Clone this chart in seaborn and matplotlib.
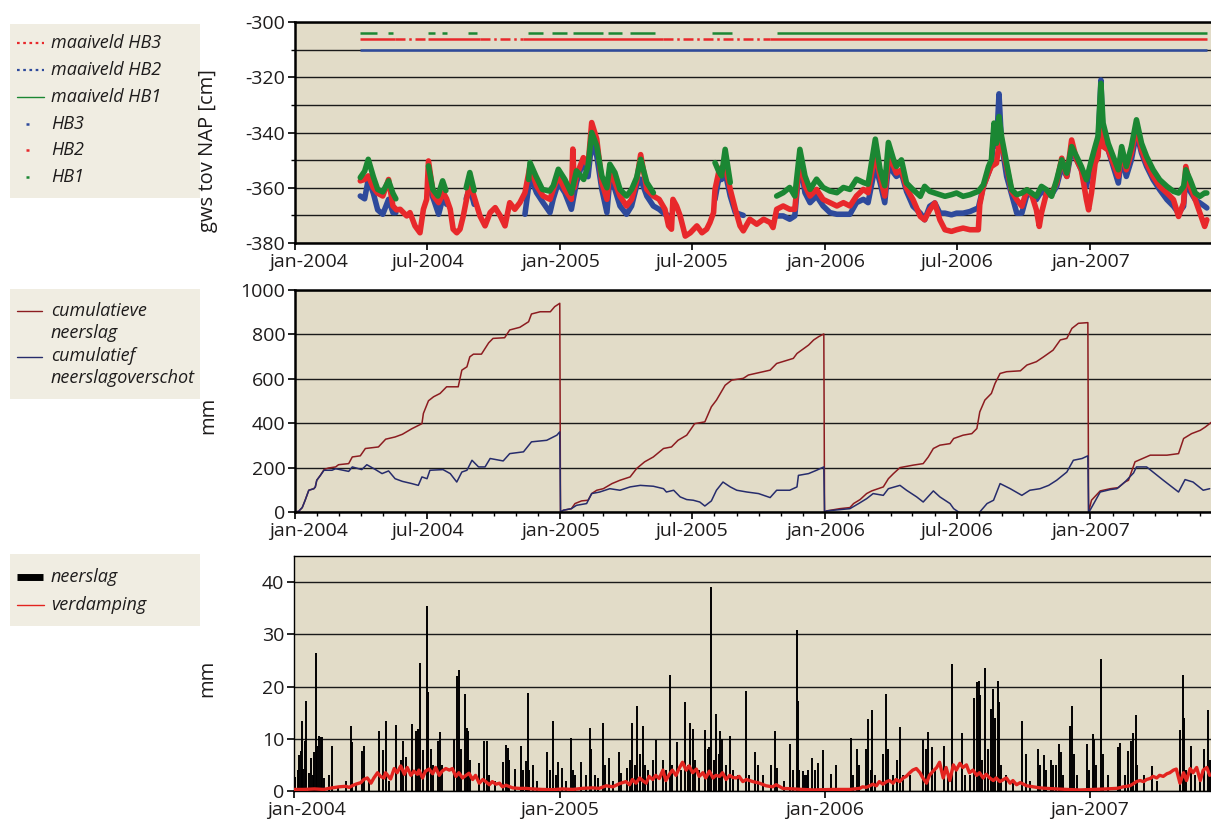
import numpy as np
import pandas as pd
import matplotlib
matplotlib.use("Agg")
import matplotlib.pyplot as plt
import matplotlib.dates as mdates
import matplotlib.transforms as mtransforms
from matplotlib.lines import Line2D
from matplotlib.patches import Rectangle
import seaborn as sns

nan = float("nan")
START = pd.Timestamp("2004-01-01")

# ---------------------------------------------------------------- grondwater
# dagnummer sinds 1 jan 2004, grondwaterstand in cm t.o.v. NAP (nan = geen meting)
hb1_dag = [90, 96, 101, 108, 114, 121, 129, 135, 139, 160,
           184, 190, 197, 203.5, 208, 222, 236, 241, 247, 280,
           322, 324, 332, 341, 351, 356, 363, 372, 381, 388,
           398, 404, 409, 416, 423, 430, 434, 441, 448, 457,
           464, 471, 476.5, 485, 494, 540, 579, 584, 588, 593,
           600, 630, 664, 673, 682, 689, 696, 703, 710, 719,
           728, 737.5, 747, 756, 765, 774, 783.5, 790, 800, 806.5,
           813, 818, 825, 829, 836, 843, 852, 862, 868, 875,
           882, 889, 896, 905, 912, 921, 930.5, 942, 949, 956,
           960, 963.6, 967, 970.5, 974, 981, 988, 995, 1002, 1009,
           1015.5, 1022, 1029, 1036, 1043, 1050, 1057, 1064, 1070.6, 1077.5,
           1084, 1091, 1098, 1103, 1107, 1111, 1114, 1121, 1128, 1135,
           1139.6, 1146, 1153, 1160, 1167, 1174, 1183, 1192, 1202, 1211,
           1218, 1225, 1228, 1234, 1241, 1247.5, 1254, 1257]
hb1_gws = [-356.3, -354.0, -349.7, -356.0, -360.6, -361.5, -357.5, -362.0, -364.0, nan,
           -352.1, -360.6, -363.0, -357.5, -361.0, nan, -360.0, -354.5, -361.0, nan,
           -357.0, -350.9, -355.7, -360.6, -361.2, -359.3, -353.3, -357.0, -362.0, -353.9,
           -357.0, -352.0, -340.0, -344.9, -355.7, -360.0, -351.5, -354.5, -360.6, -363.0,
           -360.6, -356.3, -349.7, -358.1, -361.8, nan, -350.9, -354.0, -355.7, -346.1,
           -358.1, nan, -363.0, -361.8, -359.9, -363.0, -346.1, -355.7, -360.6, -356.9,
           -359.9, -361.2, -361.8, -359.9, -360.6, -356.9, -358.1, -358.7, -342.4, -353.3,
           -359.3, -343.6, -349.7, -352.3, -349.9, -358.3, -360.7, -363.1, -359.5, -361.3,
           -361.9, -362.5, -363.1, -362.5, -361.9, -363.1, -362.5, -361.3, -358.9, -352.3,
           -349.9, -336.6, -343.9, -334.2, -341.4, -351.1, -360.7, -362.5, -361.9, -360.7,
           -361.9, -363.1, -359.5, -360.7, -363.1, -357.1, -349.9, -354.7, -345.1, -348.7,
           -352.3, -357.1, -349.9, -345.1, -341.4, -322.2, -336.6, -343.9, -348.7, -353.5,
           -345.1, -352.3, -345.1, -335.4, -343.9, -348.7, -353.5, -357.1, -359.5, -361.3,
           -361.9, -359.5, -353.5, -357.1, -361.9, -363.1, -361.9, -361.9]

hb2_dag = [90, 96, 101, 108, 114, 121, 129, 135, 140, 145,
           154, 158.5, 165.4, 172.3, 177, 181.5, 184, 191, 198, 204.5,
           209, 214, 218, 223, 227.5, 232, 241, 248, 255, 262,
           269, 276, 283, 289.5, 296, 303, 310, 317, 324, 333,
           342, 351.5, 356, 363, 372, 381, 383, 385, 388, 397.5,
           404, 409, 416, 423, 430, 434, 441, 448, 457, 464,
           471, 476.5, 485, 494, 502, 510, 515, 519, 521, 526,
           531, 538, 545, 554, 561, 567.5, 572, 577, 579, 584,
           588, 593, 600, 607, 613.5, 618, 627, 636.5, 646, 655,
           659, 664, 673, 682, 689, 696, 703, 710, 719, 728,
           737.5, 747, 756, 765, 774, 783.5, 790, 800, 806.5, 813,
           818, 825, 829, 836, 843, 852, 862, 868, 875, 882,
           889, 896, 905, 912, 921, 930.5, 942, 944, 949, 956,
           960, 967, 970.5, 974, 981, 988, 995, 1002, 1009, 1015.5,
           1022, 1026, 1029, 1036, 1043, 1050, 1057, 1064, 1070.6, 1077.5,
           1084, 1091, 1094, 1098, 1103, 1107, 1111, 1114, 1121, 1128,
           1135, 1139.6, 1146, 1153, 1160, 1167, 1174, 1183, 1192, 1202,
           1211, 1218, 1225, 1228, 1234, 1241, 1247.5, 1254, 1257]
hb2_gws = [-357.5, -357.0, -355.7, -360.0, -362.0, -363.0, -357.0, -366.6, -368.0, -367.8,
           -370.2, -369.0, -373.8, -376.3, -367.8, -364.2, -350.3, -363.0, -365.4, -361.8,
           -364.0, -367.8, -375.0, -376.3, -375.0, -370.2, -358.1, -364.2, -370.2, -373.8,
           -369.0, -367.2, -370.2, -373.8, -365.4, -367.8, -365.4, -361.8, -352.1, -359.3,
           -363.0, -364.2, -360.6, -355.7, -360.6, -364.2, -346.0, -360.0, -355.7, -349.1,
           -352.0, -336.4, -342.4, -358.1, -364.2, -353.9, -358.1, -363.0, -366.6, -364.2,
           -357.5, -348.0, -360.6, -363.0, -364.2, -367.8, -373.8, -375.0, -364.2, -366.6,
           -370.2, -377.5, -376.3, -373.8, -376.3, -375.0, -372.6, -369.0, -360.6, -354.5,
           -352.7, -352.1, -360.6, -367.8, -373.8, -375.6, -371.4, -373.2, -371.4, -372.6,
           -374.4, -367.8, -366.6, -367.8, -367.8, -348.5, -359.3, -363.0, -360.6, -364.2,
           -365.4, -366.6, -365.4, -366.6, -363.0, -360.6, -361.8, -347.3, -355.7, -363.0,
           -348.5, -352.1, -354.7, -353.5, -360.1, -364.3, -370.4, -371.6, -368.0, -365.5,
           -371.6, -375.2, -375.8, -375.2, -374.6, -375.2, -375.2, -366.1, -359.5, -354.7,
           -352.3, -351.1, -344.0, -343.9, -352.3, -361.3, -364.3, -366.7, -360.7, -362.5,
           -368.0, -374.0, -369.2, -361.9, -361.9, -358.3, -349.3, -355.9, -342.7, -349.9,
           -353.5, -364.3, -368.0, -361.9, -351.1, -348.7, -334.0, -345.1, -346.3, -351.1,
           -355.9, -346.3, -353.5, -347.5, -337.8, -346.3, -351.1, -355.9, -359.5, -361.9,
           -364.3, -370.4, -365.5, -352.3, -359.5, -364.3, -369.2, -374.0, -371.6]

hb3_dag = [90, 96, 101, 108, 114, 121, 129, 135, 139, 160,
           184, 191, 198, 204.5, 209, 222, 236, 241, 247, 280,
           317, 324, 333, 342, 351.5, 356, 363, 372, 381, 388,
           397.5, 404, 409, 416, 423, 430, 434, 441, 448, 457,
           464, 471, 476.5, 485, 494, 502, 510, 515, 545, 579,
           584, 588, 593, 600, 607, 613.5, 618, 640, 664, 673,
           682, 689, 696, 703, 710, 719, 728, 737.5, 747, 756,
           765, 774, 783.5, 790, 800, 806.5, 813, 818, 825, 829,
           836, 843, 852, 862, 868, 875, 882, 889, 896, 905,
           912, 921, 930.5, 942, 949, 956, 960, 963.6, 967, 970.5,
           974, 981, 988, 995, 1002, 1009, 1015.5, 1022, 1029, 1036,
           1043, 1050, 1057, 1064, 1070.6, 1077.5, 1084, 1091, 1098, 1103,
           1107, 1111, 1114, 1121, 1128, 1135, 1139.6, 1146, 1153, 1160,
           1167, 1174, 1183, 1192, 1202, 1211, 1218, 1225, 1228, 1234,
           1241, 1247.5, 1254, 1257]
hb3_gws = [-363.0, -364.0, -357.0, -362.0, -368.0, -369.6, -364.2, -369.0, -369.0, nan,
           -359.3, -364.2, -369.6, -363.0, -366.0, nan, -364.0, -359.9, -366.0, nan,
           -369.6, -355.7, -361.8, -365.4, -369.0, -364.0, -358.1, -361.8, -367.8, -358.1,
           -350.0, -356.0, -343.6, -348.5, -360.6, -369.0, -356.9, -360.6, -366.6, -369.6,
           -366.6, -359.3, -356.9, -363.0, -366.6, -367.8, -369.6, -370.0, nan, -364.2,
           -356.9, -357.0, -354.5, -363.0, -369.0, -369.6, -370.0, nan, -370.2, -370.2,
           -371.4, -370.2, -349.7, -361.8, -365.4, -363.0, -366.6, -369.0, -369.6, -369.6,
           -369.6, -365.4, -364.2, -365.4, -352.1, -358.1, -365.4, -352.1, -354.5, -355.9,
           -354.7, -361.3, -366.7, -369.2, -371.6, -366.7, -365.5, -369.2, -369.2, -369.8,
           -369.2, -369.2, -368.6, -367.3, -359.5, -354.7, -351.1, -340.0, -345.0, -326.0,
           -343.9, -355.9, -362.5, -369.2, -369.2, -362.5, -362.5, -364.3, -361.3, -362.5,
           -362.5, -359.5, -352.3, -355.9, -346.3, -349.9, -353.5, -359.5, -351.1, -346.3,
           -345.1, -321.0, -343.9, -346.3, -352.3, -358.3, -348.7, -355.9, -349.9, -340.2,
           -347.5, -352.3, -357.1, -360.7, -364.3, -366.7, -369.2, -366.7, -355.9, -361.3,
           -364.3, -365.5, -366.7, -367.3]

# maaiveldhoogte (cm t.o.v. NAP) en de perioden waarover die is uitgezet
maaiveld_hb1 = -304
maaiveld_hb3 = -306
maaiveld_hb2 = -310
maaiveld_hb1_van = [89.6, 128, 183, 203, 238.5, 321, 354, 383, 431.5, 462, 575, 664.5]
maaiveld_hb1_tot = [113, 135, 193, 209.5, 251, 342, 375, 424.5, 451, 496, 602, 1257]
maaiveld_hb3_van = [89.6, 183, 314, 655]
maaiveld_hb3_tot = [138, 255, 507, 1257]
maaiveld_hb3_gat_van = [138, 255, 507]
maaiveld_hb3_gat_tot = [183, 314, 655]
maaiveld_hb2_van = [89.6]
maaiveld_hb2_tot = [1257]

# ---------------------------------------------------------------- cumulatief
cum_neerslag_dag = [0, 5, 10, 14, 19, 26, 28, 30, 35, 40,
                    46, 56, 60, 74, 79, 90, 97, 115, 125, 138,
                    148, 161, 170, 175, 177, 184, 191, 200, 209, 225,
                    230, 237, 241, 246, 257, 267, 273, 289, 296, 310,
                    322, 326, 338, 352, 358, 365, 366, 370, 381, 386,
                    395, 404, 409, 416, 425, 437, 448, 462, 471, 482,
                    494, 508, 519, 528, 540, 551, 565, 574, 581, 593,
                    602, 618, 625, 655, 664, 687, 692, 708, 715, 722,
                    729, 730, 733, 751, 765, 770, 779, 788, 795, 811,
                    818, 825, 834, 852, 866, 873, 880, 889, 903, 908,
                    921, 933, 940, 944, 951, 960, 965, 972, 981, 1000,
                    1009, 1022, 1032, 1045, 1055, 1064, 1071, 1080, 1093, 1094,
                    1098, 1110, 1124, 1135, 1144, 1149, 1158, 1165, 1179, 1202,
                    1218, 1225, 1236, 1248, 1255, 1264]
cum_neerslag_mm = [0, 3, 20, 53, 98, 105, 113, 143, 165, 191,
                   198, 203, 213, 218, 248, 253, 286, 293, 328, 338,
                   350, 375, 390, 398, 444, 501, 519, 534, 564, 564,
                   639, 654, 699, 711, 711, 762, 782, 785, 820, 832,
                   857, 892, 902, 902, 925, 940, 0, 8, 15, 38,
                   50, 53, 83, 98, 105, 128, 143, 158, 196, 226,
                   248, 286, 293, 323, 346, 398, 406, 474, 504, 571,
                   594, 602, 617, 639, 669, 692, 714, 752, 775, 790,
                   802, 0, 5, 15, 20, 38, 56, 83, 95, 113,
                   150, 173, 200, 211, 218, 248, 286, 301, 308, 331,
                   346, 353, 376, 451, 504, 534, 579, 624, 632, 636,
                   662, 677, 699, 729, 775, 782, 827, 850, 853, 0,
                   53, 95, 105, 110, 135, 143, 226, 236, 256, 256,
                   263, 331, 353, 368, 383, 406]

cum_overschot_dag = [0, 5, 10, 14, 19, 26, 28, 30, 35, 40,
                     51, 56, 74, 79, 92, 99, 111, 120, 129, 138,
                     148, 161, 170, 175, 182, 186, 204, 214, 223, 230,
                     237, 244, 253, 262, 269, 287, 296, 315, 326, 347,
                     361, 365, 366, 370, 381, 388, 402, 409, 420, 434,
                     448, 462, 476, 494, 508, 512, 522, 531, 540, 549,
                     558, 565, 574, 581, 590, 600, 609, 623, 639, 655,
                     664, 682, 692, 694, 708, 719, 729, 730, 733, 765,
                     777, 788, 797, 811, 818, 834, 843, 857, 866, 880,
                     889, 903, 908, 917, 931, 944, 954, 963, 972, 986,
                     1002, 1013, 1027, 1039, 1050, 1064, 1073, 1085, 1093, 1094,
                     1096, 1110, 1124, 1133, 1144, 1156, 1160, 1174, 1197, 1218,
                     1227, 1238, 1252, 1261]
cum_overschot_mm = [0, 3, 20, 53, 98, 105, 113, 143, 165, 188,
                    188, 195, 183, 203, 191, 213, 191, 173, 185, 150,
                    138, 128, 120, 158, 150, 188, 191, 173, 135, 180,
                    188, 233, 203, 203, 241, 230, 263, 271, 316, 323,
                    346, 361, 0, 8, 15, 30, 38, 83, 90, 105,
                    98, 113, 120, 116, 105, 90, 98, 68, 56, 53,
                    45, 27, 50, 98, 135, 113, 98, 90, 83, 65,
                    98, 98, 113, 165, 173, 188, 203, 0, 5, 15,
                    38, 60, 83, 75, 105, 120, 98, 68, 45, 95,
                    68, 38, 15, -5, -30, 0, 38, 53, 128, 105,
                    75, 98, 105, 120, 143, 180, 233, 241, 253, 0,
                    8, 90, 101, 105, 135, 176, 203, 203, 143, 90,
                    146, 135, 98, 105]

# ---------------------------------------------------------------- dagwaarden
neerslag_dag = [2, 5, 7, 9, 11, 13, 15, 17, 21, 23,
                26, 28, 30, 32, 34, 37, 39, 41, 48, 53,
                60, 71, 78, 80, 85, 94, 97, 103, 117, 122,
                126, 131, 141, 147, 150, 154, 162, 168, 171, 174,
                177, 183, 184, 189, 192, 198, 201, 204, 221, 224,
                227, 230, 235, 238, 240, 242, 255, 262, 266, 269,
                277, 288, 292, 294, 296, 305, 312, 316, 319, 322,
                324, 329, 335, 349, 352, 357, 361, 364, 369, 375,
                381, 384, 387, 395, 402, 407, 409, 414, 418, 426,
                428, 434, 439, 447, 450, 459, 463, 466, 470, 473,
                477, 480, 483, 487, 494, 498, 508, 512, 518, 521,
                527, 533, 539, 542, 545, 549, 552, 558, 566, 570,
                572, 574, 578, 581, 585, 587, 590, 595, 600, 604,
                611, 622, 627, 635, 639, 646, 657, 662, 665, 675,
                683, 687, 692, 694, 696, 701, 703, 706, 708, 713,
                717, 721, 728, 740, 747, 767, 770, 775, 778, 787,
                790, 794, 796, 800, 811, 815, 818, 825, 830, 834,
                839, 848, 866, 870, 873, 878, 882, 895, 901, 906,
                912, 920, 924, 931, 937, 940, 943, 945, 948, 951,
                956, 960, 963, 965, 969, 971, 974, 981, 990, 1003,
                1008, 1013, 1024, 1027, 1033, 1036, 1042, 1045, 1049, 1053,
                1056, 1059, 1068, 1071, 1074, 1078, 1092, 1095, 1100, 1102,
                1105, 1111, 1114, 1121, 1135, 1138, 1144, 1149, 1152, 1155,
                1159, 1161, 1170, 1181, 1188, 1220, 1224, 1226, 1229, 1235,
                1241, 1248, 1253, 1259, 1261]
neerslag_mm = [2.7, 4.0, 6.9, 7.7, 13.4, 4.3, 9.6, 17.2, 3.5, 6.3,
               3.0, 7.4, 26.4, 8.7, 10.5, 10.3, 10.3, 2.5, 3.0, 8.7,
               1.0, 2.0, 12.4, 9.3, 1.5, 7.7, 8.7, 2.0, 11.5, 7.8,
               13.5, 2.0, 12.7, 6.0, 9.6, 6.5, 12.8, 11.4, 11.8, 24.6,
               7.8, 35.5, 19.0, 8.0, 5.0, 9.6, 11.3, 5.0, 10.0, 22.0,
               23.2, 8.0, 18.6, 12.0, 11.5, 6.0, 5.4, 9.6, 9.6, 3.0,
               2.0, 5.5, 8.8, 8.3, 6.0, 4.2, 8.7, 4.0, 5.8, 18.7,
               4.0, 5.0, 2.0, 7.5, 4.0, 13.4, 3.0, 5.5, 4.5, 2.0,
               10.2, 4.0, 3.0, 5.5, 3.0, 12.0, 8.0, 3.0, 2.5, 13.0,
               5.0, 6.4, 2.0, 7.5, 3.5, 4.5, 6.0, 13.0, 5.0, 16.3,
               7.0, 12.5, 5.0, 4.0, 6.0, 9.7, 6.0, 4.0, 22.3, 5.0,
               9.3, 4.0, 17.0, 5.0, 13.1, 11.8, 6.0, 4.0, 11.6, 8.0,
               8.5, 39.0, 6.0, 14.8, 7.0, 11.4, 10.0, 5.0, 10.5, 4.0,
               3.0, 19.2, 3.0, 7.4, 5.0, 3.0, 5.0, 11.5, 4.5, 2.0,
               9.0, 4.0, 30.9, 17.3, 4.0, 3.8, 3.0, 3.0, 4.0, 6.4,
               4.0, 5.3, 7.8, 3.3, 5.0, 10.2, 3.0, 8.0, 5.0, 8.0,
               13.8, 4.0, 15.5, 3.0, 7.0, 18.5, 8.0, 3.0, 6.0, 12.3,
               3.0, 3.0, 9.8, 8.0, 11.3, 8.4, 4.0, 8.6, 3.0, 24.3,
               4.0, 11.1, 3.0, 3.0, 17.9, 20.8, 21.1, 18.3, 6.0, 23.5,
               8.0, 15.7, 19.5, 14.0, 21.0, 17.0, 5.0, 3.0, 2.0, 13.4,
               7.0, 2.0, 8.0, 5.0, 6.8, 4.0, 6.0, 5.0, 5.0, 9.0,
               7.5, 3.0, 12.5, 16.2, 7.0, 3.0, 9.0, 4.0, 11.0, 10.0,
               5.0, 25.3, 7.0, 3.0, 8.5, 9.2, 3.0, 7.6, 9.5, 11.2,
               14.6, 5.0, 3.0, 4.8, 2.0, 11.7, 22.3, 14.0, 4.0, 8.7,
               3.0, 3.0, 8.0, 15.6, 6.0]

verdamping_dag = [0, 14, 28, 41, 48, 53, 62, 71, 76, 80,
                  85, 92, 96, 101, 106, 110, 115, 119, 124, 126,
                  133, 138, 142, 147, 152, 156, 161, 165, 170, 172,
                  177, 181, 186, 191, 195, 200, 204, 209, 214, 218,
                  223, 227, 232, 237, 241, 246, 250, 255, 260, 264,
                  269, 273, 278, 283, 287, 292, 301, 310, 319, 328,
                  342, 356, 370, 384, 397, 411, 420, 430, 439, 448,
                  457, 462, 466, 471, 476, 480, 485, 489, 494, 498,
                  503, 508, 512, 517, 521, 526, 531, 535, 540, 544,
                  549, 554, 558, 563, 567, 572, 577, 581, 586, 590,
                  595, 600, 604, 609, 613, 618, 623, 632, 641, 650,
                  659, 664, 673, 687, 701, 715, 742, 765, 779, 783,
                  788, 793, 797, 802, 806, 811, 816, 820, 825, 829,
                  834, 839, 843, 848, 852, 857, 862, 866, 871, 875,
                  880, 885, 889, 894, 898, 903, 908, 912, 917, 921,
                  926, 930, 935, 940, 944, 949, 953, 958, 963, 967,
                  972, 981, 986, 990, 995, 1000, 1009, 1018, 1027, 1036,
                  1050, 1064, 1082, 1101, 1119, 1133, 1142, 1151, 1156, 1160,
                  1165, 1170, 1174, 1179, 1183, 1188, 1192, 1197, 1202, 1206,
                  1211, 1215, 1220, 1225, 1229, 1234, 1238, 1243, 1248, 1252,
                  1257, 1261]
verdamping_mm = [0.3, 0.3, 0.4, 0.3, 0.5, 0.6, 0.8, 0.9, 0.7, 1.0,
                 1.3, 1.6, 2.2, 2.5, 1.5, 2.5, 3.5, 2.8, 2.5, 3.5,
                 2.3, 4.3, 3.5, 4.8, 3.2, 4.5, 3.0, 3.8, 3.2, 4.0,
                 2.5, 3.8, 4.2, 3.3, 4.5, 3.0, 3.8, 4.3, 4.0, 4.3,
                 2.8, 3.5, 2.5, 3.0, 3.4, 2.2, 3.0, 1.5, 2.2, 1.8,
                 1.2, 1.8, 1.3, 1.5, 0.8, 1.1, 0.6, 0.5, 0.5, 0.4,
                 0.3, 0.25, 0.4, 0.3, 0.5, 0.6, 0.5, 1.0, 0.8, 1.4,
                 1.8, 1.2, 2.2, 1.5, 2.5, 2.0, 1.5, 2.8, 2.2, 3.0,
                 2.4, 4.0, 2.0, 3.2, 4.0, 3.0, 4.5, 5.5, 4.0, 4.8,
                 3.5, 4.2, 2.8, 3.5, 2.5, 3.8, 2.5, 3.0, 2.8, 3.5,
                 2.2, 3.0, 2.6, 2.5, 2.8, 1.8, 2.2, 1.8, 1.5, 1.0,
                 0.8, 1.2, 0.5, 0.4, 0.3, 0.2, 0.3, 0.3, 0.5, 0.8,
                 0.7, 1.0, 1.3, 1.0, 1.8, 1.3, 1.8, 2.0, 1.5, 2.2,
                 1.8, 2.5, 2.8, 3.5, 4.0, 4.3, 3.5, 2.5, 1.5, 3.0,
                 3.8, 4.5, 5.5, 2.5, 4.5, 2.0, 5.0, 4.0, 5.3, 4.5,
                 5.0, 3.5, 4.0, 3.0, 3.5, 2.5, 3.2, 2.5, 2.0, 2.5,
                 1.8, 2.5, 1.5, 2.0, 1.2, 1.6, 1.0, 0.8, 0.6, 0.5,
                 0.4, 0.3, 0.2, 0.3, 0.4, 0.5, 0.8, 1.0, 1.4, 1.8,
                 2.0, 1.8, 2.2, 2.4, 2.8, 2.5, 3.0, 2.8, 3.3, 3.5,
                 4.0, 4.2, 1.5, 3.5, 2.0, 4.3, 3.5, 4.5, 2.0, 4.0,
                 4.5, 3.0]

# ---------------------------------------------------------------- stijl
C_HB1 = "#1b8733"
C_HB2 = "#e8282b"
C_HB3 = "#2e4a9c"
C_CUM_N = "#8c1c20"
C_CUM_O = "#262c6c"
C_VERD = "#e3241f"
PLOT_BG = "#e2dcc8"
LEG_BG = "#f0ede2"
TXT = "#1e1c1c"

sns.set_theme(style="ticks")
plt.rcParams["font.family"] = ["Open Sans", "DejaVu Sans"]
plt.rcParams["axes.unicode_minus"] = False
plt.rcParams["text.color"] = TXT

W, H = 1211, 821
fig = plt.figure(figsize=(W / 100, H / 100), dpi=100)
fig.patch.set_facecolor("white")

X_END = 916 / 0.7254  # dagen zichtbaar tot de rechterrand


def datums(dagen):
    return START + pd.to_timedelta(np.asarray(dagen, dtype=float), unit="D")


def px_axes(left, top, right, bottom):
    return fig.add_axes([left / W, 1 - bottom / H, (right - left) / W, (bottom - top) / H])


def reeks(dagen, waarden):
    df = pd.DataFrame({"dag": dagen, "waarde": waarden})
    df["deel"] = df["waarde"].isna().cumsum()
    df = df.dropna().copy()
    df["datum"] = datums(df["dag"])
    return df


def basis_as(ax, spine_lw):
    ax.set_facecolor(PLOT_BG)
    ax.set_axisbelow(True)
    for s in ("left", "bottom", "top"):
        ax.spines[s].set_linewidth(spine_lw)
        ax.spines[s].set_color("black")
    ax.spines["right"].set_visible(False)
    ax.tick_params(axis="both", which="major", direction="out", length=5,
                   width=1.2, color="black", labelsize=14, pad=2, labelcolor=TXT)
    ax.tick_params(axis="both", which="minor", direction="out", length=3,
                   width=1.0, color="black")
    ax.grid(axis="y", which="both", color="#1a1a1a", linewidth=1.0)
    ax.grid(axis="x", visible=False)


def afwerking(ax, maanden, ylabel, label_y):
    ax.set_xlim(START, START + pd.Timedelta(days=X_END))
    ticks = [d for d in pd.date_range("2004-01-01", "2007-01-01", freq="MS")
             if d.month in maanden]
    names = {1: "jan", 7: "jul"}
    ax.set_xticks(ticks, [f"{names[d.month]}-{d.year}" for d in ticks])
    lbl = ax.get_xticklabels()[0]
    lbl.set_transform(lbl.get_transform()
                      + mtransforms.ScaledTranslation(13 / 100, 0, fig.dpi_scale_trans))
    ax.set_xlabel("")
    ax.set_ylabel(ylabel, fontsize=14.5, color=TXT)
    ax.yaxis.set_label_coords(-0.084, label_y)


# ---------------------------------------------------------------- paneel 1
ax1 = px_axes(295, 22, 1211, 243)
basis_as(ax1, 1.8)
for dagen, waarden, kleur in ((hb3_dag, hb3_gws, C_HB3),
                              (hb2_dag, hb2_gws, C_HB2),
                              (hb1_dag, hb1_gws, C_HB1)):
    sns.lineplot(data=reeks(dagen, waarden), x="datum", y="waarde", units="deel",
                 estimator=None, color=kleur, linewidth=4.0, ax=ax1, legend=False,
                 solid_joinstyle="round", solid_capstyle="round")

ax1.hlines([maaiveld_hb2] * len(maaiveld_hb2_van), datums(maaiveld_hb2_van),
           datums(maaiveld_hb2_tot), color=C_HB3, linewidth=1.8)
ax1.hlines([maaiveld_hb3] * len(maaiveld_hb3_van), datums(maaiveld_hb3_van),
           datums(maaiveld_hb3_tot), color=C_HB2, linewidth=1.8)
ax1.hlines([maaiveld_hb3] * len(maaiveld_hb3_gat_van), datums(maaiveld_hb3_gat_van),
           datums(maaiveld_hb3_gat_tot), color=C_HB2, linewidth=1.8,
           linestyles=[(0, (4, 1.5, 1, 1.5))])
ax1.hlines([maaiveld_hb1] * len(maaiveld_hb1_van), datums(maaiveld_hb1_van),
           datums(maaiveld_hb1_tot), color=C_HB1, linewidth=1.8)

ax1.set_ylim(-380, -300)
ax1.set_yticks(np.arange(-380, -299, 20))
ax1.set_yticks(np.arange(-370, -300, 20), minor=True)
afwerking(ax1, (1, 7), "gws tov NAP [cm]", 0.42)

# ---------------------------------------------------------------- paneel 2
ax2 = px_axes(295, 290, 1211, 512)
basis_as(ax2, 1.8)
sns.lineplot(x=datums(cum_neerslag_dag), y=cum_neerslag_mm, sort=False,
             color=C_CUM_N, linewidth=1.1, ax=ax2, legend=False)
sns.lineplot(x=datums(cum_overschot_dag), y=cum_overschot_mm, sort=False,
             color=C_CUM_O, linewidth=1.1, ax=ax2, legend=False)
ax2.set_ylim(0, 1000)
ax2.set_yticks(np.arange(0, 1001, 200))
ax2.xaxis.set_minor_locator(mdates.MonthLocator())
afwerking(ax2, (1, 7), "mm", 0.437)

# ---------------------------------------------------------------- paneel 3
ax3 = px_axes(294, 556, 1211, 791)
basis_as(ax3, 1.0)
ax3.vlines(datums(neerslag_dag), 0, neerslag_mm, color="black",
           linewidth=1.4, zorder=2)
sns.lineplot(x=datums(verdamping_dag), y=verdamping_mm, color=C_VERD,
             linewidth=2.4, ax=ax3, legend=False, zorder=3)
ax3.set_ylim(0, 45)
ax3.set_yticks(np.arange(0, 41, 10))
afwerking(ax3, (1,), "mm", 0.479)


# ---------------------------------------------------------------- legenda's
def fx(x):
    return x / W


def fy(y):
    return 1 - y / H


def legenda_vak(top, bottom):
    fig.add_artist(Rectangle((fx(10), fy(bottom)), fx(190), (bottom - top) / H,
                             transform=fig.transFigure, facecolor=LEG_BG,
                             edgecolor="none", zorder=0))


def legenda_lijn(y, kleur, x0=17, x1=44, **kw):
    fig.add_artist(Line2D([fx(x0), fx(x1)], [fy(y), fy(y)], color=kleur,
                          transform=fig.transFigure, **kw))


def legenda_tekst(y, tekst):
    fig.text(fx(51), fy(y), tekst, style="italic", fontsize=13, color=TXT,
             va="center", ha="left")


legenda_vak(24, 198)
legenda_lijn(43, C_HB2, linestyle=(0, (1.2, 1.6)), linewidth=1.6)
legenda_tekst(43, "maaiveld HB3")
legenda_lijn(70, C_HB3, linestyle=(0, (1.2, 1.6)), linewidth=1.6)
legenda_tekst(70, "maaiveld HB2")
legenda_lijn(97, C_HB1, linewidth=1.0)
legenda_tekst(97, "maaiveld HB1")
for y, kleur, naam in ((124, C_HB3, "HB3"), (150, C_HB2, "HB2"), (177, C_HB1, "HB1")):
    legenda_lijn(y, kleur, x0=26, x1=29, linewidth=1.8, solid_capstyle="butt")
    legenda_tekst(y, naam)

legenda_vak(289, 399)
legenda_lijn(311, C_CUM_N, x0=17, x1=42, linewidth=1.0)
legenda_tekst(311, "cumulatieve")
legenda_tekst(333, "neerslag")
legenda_lijn(357, C_CUM_O, x0=17, x1=42, linewidth=1.0)
legenda_tekst(356, "cumulatief")
legenda_tekst(378, "neerslagoverschot")

legenda_vak(554, 626)
legenda_lijn(577, "black", x0=17, x1=43, linewidth=5.0, solid_capstyle="butt")
legenda_tekst(577, "neerslag")
legenda_lijn(605, C_VERD, x0=17, x1=44, linewidth=1.0)
legenda_tekst(605, "verdamping")

fig.savefig("out.png", dpi=100, facecolor="white")
